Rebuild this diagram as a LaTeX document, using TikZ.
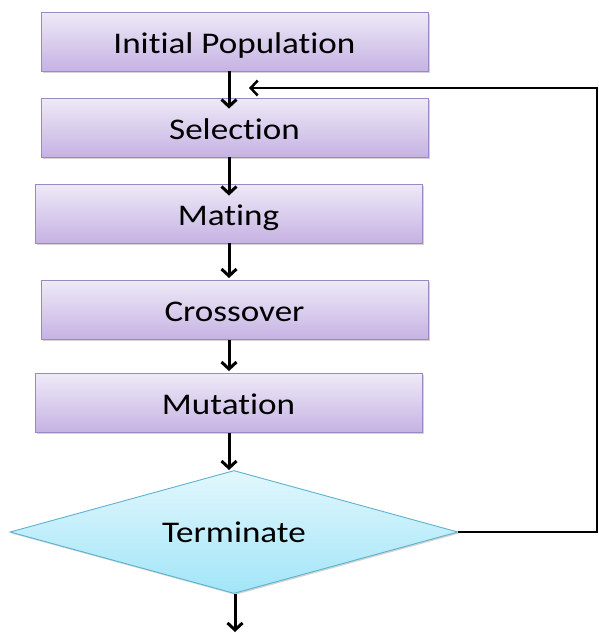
\documentclass[tikz,border=0pt]{standalone}
\usepackage{fontspec}
\setmainfont{Carlito}[Ligatures=CommonOff, FakeStretch=1.17]
\usepackage{tikz}
\usetikzlibrary{shapes.geometric,arrows.meta,shadows}

\tikzset{
  stepbox/.style={rectangle, draw=boxline, line width=0.9pt, top color=boxtop, bottom color=boxbot,
    minimum width=387pt, minimum height=59pt, inner sep=0pt, text height=24pt, text depth=0.6pt,
    font=\fontsize{30}{36}\selectfont, drop shadow={shadow xshift=1.5pt, shadow yshift=-1.5pt, opacity=0.35}},
  testbox/.style={diamond, draw=dialine, line width=0.9pt, top color=diatop, bottom color=diabot,
    minimum width=448pt, minimum height=123pt, aspect=3.64, inner sep=0pt,
    font=\fontsize{30}{36}\selectfont, drop shadow={shadow xshift=1.5pt, shadow yshift=-1.5pt, opacity=0.35}},
  flow/.style={->, line width=3pt},
}
\definecolor{boxtop}{HTML}{EEEAF7}
\definecolor{boxbot}{HTML}{C6B2E3}
\definecolor{boxline}{HTML}{9C88C4}
\definecolor{diatop}{HTML}{E2F7FD}
\definecolor{diabot}{HTML}{A2E5F8}
\definecolor{dialine}{HTML}{5DB2CE}

\begin{document}
\begin{tikzpicture}[x=1pt, y=-1pt, >={Straight Barb[length=7pt, width=15pt]}]
 			%%%	Frame
 			\useasboundingbox (0,0) rectangle (599,633);
 			%%%	Blocks
 			\node[stepbox] (init)  at (234.5,41.5) {Initial Population};
 			\node[stepbox] (sel)   at (234.5,127.5) {Selection};
 			\node[stepbox] (mate)  at (228.5,213.5) {Mating};
 			\node[stepbox] (cross) at (234.5,310) {Crossover};
 			\node[stepbox] (mut)   at (228.5,403) {Mutation};
 			\node[testbox] (term)  at (234,532) {Terminate};
 			\coordinate (axis) at (229,0);
 			\coordinate (back) at (597,88);
 			\coordinate (out) at (235,632);
 			%%%	Arrows
 			\draw[flow] (init.south -| axis) -- ([yshift=-11pt]sel.north -| axis);
 			\draw[flow] (sel.south -| axis) -- ([yshift=-12pt]mate.north -| axis);
 			\draw[flow] (mate.south -| axis) -- ([yshift=2pt]cross.north -| axis);
 			\draw[flow] (cross.south -| axis) -- ([yshift=2pt]mut.north -| axis);
 			\draw[flow] (mut.south -| axis) -- (term.north -| axis);
 			\draw[flow] (term.south -| out) -- (out);
 			\draw[line width=2.5pt, ->] (term.east) -- (term.east -| back) -- (back) -- (249,88);
\end{tikzpicture}
\end{document}
